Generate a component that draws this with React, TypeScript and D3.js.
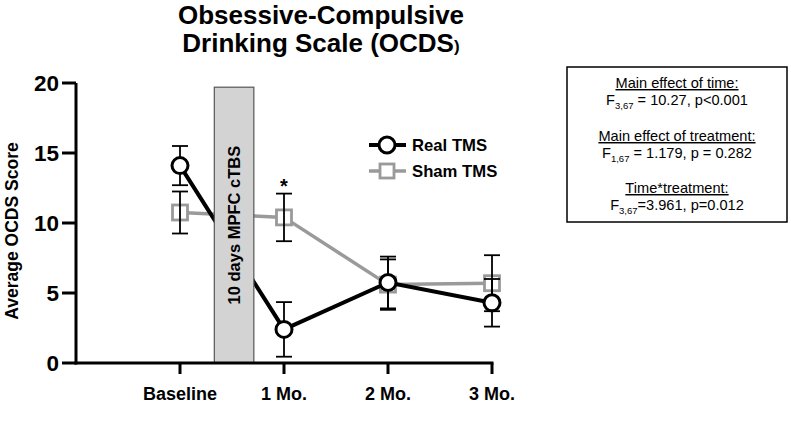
import React from "react";
import * as d3 from "d3";

const categories = ["Baseline", "1 Mo.", "2 Mo.", "3 Mo."];
const realMean = [14.1, 2.4, 5.75, 4.3];
const realErr = [1.4, 1.95, 1.85, 1.7];
const shamMean = [10.75, 10.4, 5.6, 5.7];
const shamErr = [1.5, 1.7, 1.8, 2.0];
const yTicks = [0, 5, 10, 15, 20];
const seriesNames = ["Real TMS", "Sham TMS"];
const boxLabel = "10 days MPFC cTBS";
const boxTop = 19.7;
const boxStart = 0.33;
const boxEnd = 0.71;

const FONT = "'Liberation Sans', Arial, Helvetica, sans-serif";
const W = 791;
const H = 422;

export default function App() {
  const x = d3.scalePoint<string>().domain(categories).range([180, 492]);
  const y = d3.scaleLinear().domain([0, 20]).range([363, 83]);
  const axisX = 76;
  const step = x.step();
  const xs = categories.map((c) => x(c) as number);

  const line = d3
    .line<number>()
    .x((_, i) => xs[i])
    .y((d) => y(d));

  const shamColor = "#9a9a9a";
  const cap = 8;

  const errorBars = (means: number[], errs: number[], key: string) =>
    means.map((m, i) => (
      <g key={key + i} stroke="#000" strokeWidth={1.8}>
        <line x1={xs[i]} x2={xs[i]} y1={y(m + errs[i])} y2={y(m - errs[i])} />
        <line x1={xs[i] - cap} x2={xs[i] + cap} y1={y(m + errs[i])} y2={y(m + errs[i])} />
        <line x1={xs[i] - cap} x2={xs[i] + cap} y1={y(m - errs[i])} y2={y(m - errs[i])} />
      </g>
    ));

  const bx0 = xs[0] + step * boxStart;
  const bx1 = xs[0] + step * boxEnd;

  const statsX = 677;

  return (
    <svg
      width={W}
      height={H}
      style={{ position: "absolute", left: 0, top: 0, background: "#fff" }}
      fontFamily={FONT}
    >
      {/* Title */}
      <text x={321} y={24} textAnchor="middle" fontWeight="bold" fontSize={26}>
        Obsessive-Compulsive
      </text>
      <text x={321} y={52} textAnchor="middle" fontWeight="bold" fontSize={26}>
        Drinking Scale (OCDS<tspan fontSize={17}>)</tspan>
      </text>

      {/* Y axis label */}
      <text
        transform={`translate(18,${(y(0) + y(20)) / 2 + 8}) rotate(-90)`}
        textAnchor="middle"
        fontWeight="bold"
        fontSize={17.5}
      >
        Average OCDS Score
      </text>

      {/* Sham series */}
      <path d={line(shamMean) || ""} fill="none" stroke={shamColor} strokeWidth={3.5} />
      {shamMean.map((m, i) => (
        <rect
          key={"s" + i}
          x={xs[i] - 7.5}
          y={y(m) - 7.5}
          width={15}
          height={15}
          fill="#fff"
          stroke={shamColor}
          strokeWidth={2.8}
        />
      ))}
      {errorBars(shamMean, shamErr, "se")}

      {/* Real series */}
      {errorBars(realMean, realErr, "re")}
      <path d={line(realMean) || ""} fill="none" stroke="#000" strokeWidth={4} />
      {realMean.map((m, i) => (
        <circle key={"r" + i} cx={xs[i]} cy={y(m)} r={8} fill="#fff" stroke="#000" strokeWidth={3} />
      ))}

      {/* Intervention box */}
      <rect
        x={bx0}
        y={y(boxTop)}
        width={bx1 - bx0}
        height={y(0) - y(boxTop)}
        fill="#d3d3d3"
        stroke="#555"
        strokeWidth={1.2}
      />
      <text
        transform={`translate(${(bx0 + bx1) / 2 + 6},${(y(0) + y(boxTop)) / 2}) rotate(-90)`}
        textAnchor="middle"
        fontWeight="bold"
        fontSize={16.5}
      >
        {boxLabel}
      </text>

      {/* Asterisk */}
      <text x={xs[1]} y={y(shamMean[1] + shamErr[1]) - 1} textAnchor="middle" fontWeight="bold" fontSize={20}>
        *
      </text>

      {/* Axes */}
      <line x1={axisX} x2={axisX} y1={y(20)} y2={y(0) + 1.5} stroke="#000" strokeWidth={3} />
      {yTicks.map((t) => (
        <g key={"yt" + t}>
          <line x1={axisX - 14} x2={axisX} y1={y(t)} y2={y(t)} stroke="#000" strokeWidth={3} />
          <text x={axisX - 17} y={y(t) + 8} textAnchor="end" fontWeight="bold" fontSize={22.5}>
            {t}
          </text>
        </g>
      ))}
      <line x1={axisX - 1.5} x2={xs[3] + 1.5} y1={y(0)} y2={y(0)} stroke="#000" strokeWidth={3} />
      {categories.map((c, i) => (
        <g key={"xt" + c}>
          <line x1={xs[i]} x2={xs[i]} y1={y(0)} y2={y(0) + 11} stroke="#000" strokeWidth={3} />
          <text x={xs[i]} y={400} textAnchor="middle" fontWeight="bold" fontSize={18}>
            {c}
          </text>
        </g>
      ))}

      {/* Legend */}
      <line x1={369} x2={406} y1={145} y2={145} stroke="#000" strokeWidth={4} />
      <circle cx={387} cy={145} r={8} fill="#fff" stroke="#000" strokeWidth={3} />
      <text x={412} y={151} fontWeight="bold" fontSize={16.7}>
        {seriesNames[0]}
      </text>
      <line x1={369} x2={406} y1={171} y2={171} stroke={shamColor} strokeWidth={3.5} />
      <rect x={380} y={164} width={14} height={14} fill="#fff" stroke={shamColor} strokeWidth={2.8} />
      <text x={412} y={177} fontWeight="bold" fontSize={16.7}>
        {seriesNames[1]}
      </text>

      {/* Stats box */}
      <rect x={567} y={67} width={220} height={155} fill="#fff" stroke="#000" strokeWidth={1.5} />
      <g fontSize={14.6} textAnchor="middle">
        <text x={statsX} y={88} textDecoration="underline">Main effect of time:</text>
        <text x={statsX} y={105}>
          F<tspan fontSize={9.5} dy={4}>3,67</tspan>
          <tspan dy={-4}> = 10.27, p&lt;0.001</tspan>
        </text>
        <text x={statsX} y={141} textDecoration="underline">Main effect of treatment:</text>
        <text x={statsX} y={158}>
          F<tspan fontSize={9.5} dy={4}>1,67</tspan>
          <tspan dy={-4}> = 1.179, p = 0.282</tspan>
        </text>
        <text x={statsX} y={193} textDecoration="underline">Time*treatment:</text>
        <text x={statsX} y={210}>
          F<tspan fontSize={9.5} dy={4}>3,67</tspan>
          <tspan dy={-4}>=3.961, p=0.012</tspan>
        </text>
      </g>
    </svg>
  );
}
